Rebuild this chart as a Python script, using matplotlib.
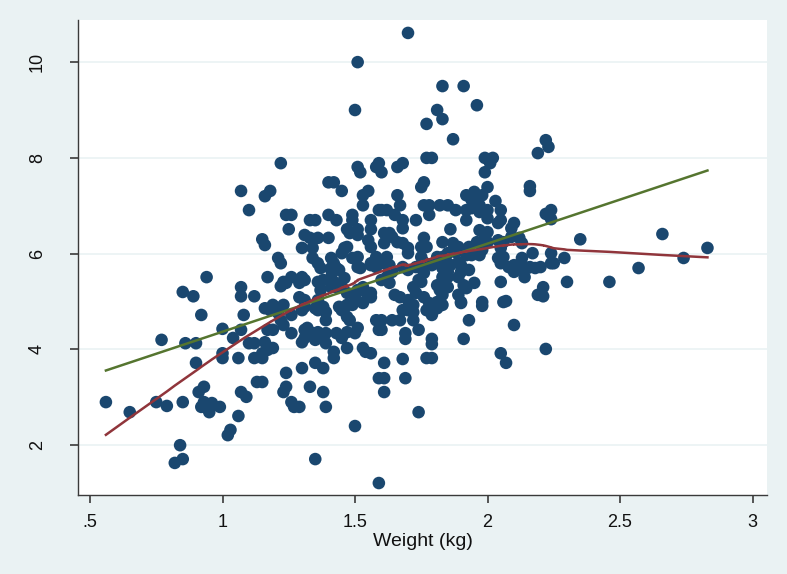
import numpy as np
import matplotlib
matplotlib.use("Agg")
import matplotlib.pyplot as plt
from matplotlib import font_manager

# ---- data (x = weight in kg, y = outcome) ----
weight = [
 0.56,0.65,0.75,0.79,0.85,0.77,0.84,0.82,0.85,0.85,0.89,0.94,0.92,0.86,0.90,0.90,0.91,0.93,0.92,0.93,
 0.95,0.96,0.95,0.99,1.00,1.00,1.00,1.04,1.07,1.08,1.06,1.06,1.03,1.02,1.07,1.09,1.07,1.10,1.07,1.07,
 1.12,1.10,1.12,1.12,1.15,1.15,1.13,1.15,1.16,1.18,1.22,1.24,1.26,1.25,1.15,1.16,1.21,1.22,1.17,1.22,
 1.23,1.26,1.24,1.19,1.23,1.16,1.18,1.17,1.19,1.16,1.17,1.19,1.22,1.23,1.21,1.26,1.26,1.24,1.24,1.23,
 1.26,1.27,1.33,1.35,1.31,1.33,1.36,1.40,1.30,1.34,1.40,1.43,1.34,1.36,1.37,1.41,1.42,1.43,1.41,1.30,
 1.31,1.29,1.36,1.38,1.41,1.43,1.41,1.37,1.29,1.31,1.36,1.31,1.35,1.38,1.44,1.40,1.42,1.30,1.31,1.31,
 1.32,1.35,1.34,1.36,1.39,1.39,1.38,1.30,1.39,1.39,1.36,1.43,1.42,1.42,1.30,1.35,1.38,1.33,1.38,1.39,
 1.35,1.29,1.42,1.44,1.41,1.45,1.51,1.52,1.58,1.59,1.60,1.53,1.55,1.53,1.49,1.49,1.47,1.48,1.51,1.51,
 1.56,1.56,1.55,1.56,1.46,1.47,1.45,1.49,1.51,1.51,1.56,1.58,1.46,1.45,1.47,1.51,1.50,1.53,1.54,1.56,
 1.56,1.47,1.53,1.59,1.51,1.50,1.45,1.47,1.50,1.51,1.47,1.48,1.46,1.49,1.58,1.59,1.56,1.54,1.53,1.47,
 1.59,1.50,1.52,1.56,1.45,1.58,1.66,1.68,1.60,1.62,1.65,1.68,1.68,1.66,1.67,1.61,1.63,1.64,1.61,1.66,
 1.68,1.70,1.70,1.61,1.63,1.68,1.70,1.64,1.73,1.62,1.63,1.60,1.70,1.72,1.67,1.65,1.72,1.73,1.73,1.62,
 1.63,1.70,1.72,1.74,1.64,1.67,1.72,1.60,1.60,1.68,1.69,1.69,1.74,1.68,1.61,1.61,1.61,1.69,1.59,1.74,
 1.70,1.83,1.81,1.83,1.77,1.87,1.77,1.79,1.76,1.75,1.76,1.78,1.82,1.85,1.88,1.78,1.76,1.77,1.83,1.87,
 1.89,1.75,1.81,1.83,1.85,1.88,1.86,1.89,1.90,1.90,1.89,1.75,1.76,1.79,1.81,1.83,1.85,1.86,1.81,1.82,
 1.85,1.85,1.83,1.81,1.83,1.89,1.90,1.75,1.76,1.78,1.77,1.79,1.81,1.79,1.77,1.79,1.79,1.79,1.76,1.83,
 1.85,1.91,1.96,1.99,2.02,2.01,1.99,1.92,1.95,1.96,1.98,2.00,2.03,1.94,1.97,1.92,1.94,1.97,2.00,2.00,
 1.92,2.04,1.97,2.00,1.99,1.93,1.96,2.00,2.04,1.92,1.94,1.98,1.97,2.04,2.05,1.91,1.92,1.95,1.98,1.98,
 1.90,1.93,1.91,1.93,2.05,2.05,2.10,2.09,2.09,2.06,2.12,2.13,2.08,2.10,2.10,2.13,2.17,2.18,2.15,2.14,
 2.24,2.24,2.29,2.30,2.21,2.21,2.05,2.06,2.07,2.05,2.07,2.10,2.22,2.19,2.22,2.23,2.19,2.16,2.16,2.22,
 2.24,2.24,2.16,2.12,2.25,2.20,2.05,2.06,2.35,2.46,2.57,2.66,2.74,2.83,
]
score = [
 2.90,2.69,2.90,2.82,2.90,4.20,2.00,1.63,1.71,5.20,5.11,5.51,4.72,4.13,4.13,3.72,3.11,3.22,2.80,2.90,
 2.80,2.88,2.69,2.80,4.43,3.92,3.82,4.24,4.41,4.72,3.82,2.61,2.32,2.21,3.11,3.01,7.31,6.91,5.30,5.11,
 5.11,4.13,4.13,3.82,3.82,3.92,3.32,3.32,7.20,7.31,7.89,6.81,6.81,6.51,6.30,6.18,5.91,5.80,5.51,5.32,
 5.41,5.51,5.39,4.93,4.93,4.86,4.82,3.99,4.03,4.15,4.41,4.41,4.61,4.51,4.76,4.72,4.34,3.51,3.22,3.11,
 2.90,2.80,6.70,6.70,6.39,6.33,6.33,6.33,6.12,6.12,6.81,6.70,5.91,5.80,5.70,5.91,5.80,5.70,5.70,5.51,
 5.45,5.39,5.41,5.45,5.51,5.30,5.30,5.24,5.09,5.03,5.03,4.89,4.86,4.89,4.89,7.49,7.49,4.15,4.24,4.41,
 4.45,4.20,4.34,4.36,4.34,4.13,4.24,4.82,4.61,4.78,4.82,4.34,3.95,3.82,3.61,3.72,3.61,3.22,3.11,2.80,
 1.71,2.80,5.41,5.66,5.66,7.31,7.81,7.70,7.81,7.89,7.70,7.22,7.31,7.01,6.81,6.70,6.51,6.43,6.51,6.39,
 6.70,6.51,6.28,6.14,6.12,6.14,6.01,5.91,5.93,5.72,5.80,5.72,5.49,5.30,5.18,5.24,5.09,5.30,5.20,5.18,
 5.09,4.93,4.97,6.91,10.00,9.00,4.24,4.36,4.34,4.45,4.68,4.61,4.86,4.93,4.61,4.41,3.92,3.95,4.03,4.03,
 3.40,2.40,5.70,5.76,4.82,5.93,7.81,7.89,6.91,6.91,6.81,6.70,6.53,7.22,7.01,6.43,6.43,6.35,6.22,6.24,
 6.22,6.12,6.01,5.80,5.76,5.72,5.66,5.62,5.72,5.51,5.39,5.45,5.03,4.93,5.09,5.14,5.30,5.18,6.70,5.93,
 5.66,4.82,4.78,5.45,4.61,4.61,4.61,4.61,4.41,4.82,4.34,4.22,4.41,3.80,3.72,3.40,3.11,3.40,1.21,2.69,
 10.61,9.50,9.00,8.81,8.71,8.39,8.00,8.00,7.49,7.39,7.01,7.01,7.01,7.01,6.91,6.81,6.33,6.14,6.24,6.22,
 6.14,6.14,5.93,5.93,6.01,6.03,6.51,5.82,5.76,5.62,5.51,5.93,5.82,5.76,5.87,5.70,5.62,5.76,5.34,5.24,
 5.30,5.51,5.14,4.99,4.93,5.14,4.99,5.41,5.09,4.97,4.82,4.82,4.86,4.72,3.82,3.82,4.22,4.11,5.60,5.51,
 5.80,9.50,9.10,8.00,8.00,7.89,7.70,7.22,7.29,7.18,7.22,7.39,7.10,7.12,7.01,6.91,6.95,6.87,6.91,6.74,
 6.70,6.64,6.49,6.45,6.35,6.14,6.24,6.24,6.28,5.97,5.97,6.08,5.97,5.91,5.80,5.34,5.28,5.39,4.99,4.91,
 4.97,5.66,4.22,4.61,6.91,6.70,6.64,6.53,6.35,6.24,6.33,6.22,5.72,5.62,5.76,5.91,6.01,5.70,5.70,5.51,
 6.01,5.80,5.91,5.41,5.30,5.11,5.41,4.99,5.01,3.92,3.72,4.51,4.01,5.14,8.37,8.23,8.10,7.41,7.31,6.83,
 6.91,6.72,5.72,5.72,5.80,5.72,6.12,5.93,6.30,5.41,5.70,6.41,5.91,6.12,
]
x_ticks = [0.5, 1, 1.5, 2, 2.5, 3]
x_ticklabels = [".5", "1", "1.5", "2", "2.5", "3"]
y_ticks = [2, 4, 6, 8, 10]
x_label = "Weight (kg)"

x = np.array(weight, dtype=float)
y = np.array(score, dtype=float)
n = min(len(x), len(y))
x, y = x[:n], y[:n]

# linear fit
b, a = np.polyfit(x, y, 1)
xs_fit = np.array([x.min(), x.max()])
ys_fit = a + b * xs_fit

# Stata-style lowess (running line, tricube weights, bwidth 0.8)
order = np.argsort(x, kind="mergesort")
xs, ys = x[order], y[order]
N = len(xs)
k = int(np.floor((N * 0.8 - 0.5) / 2))
low = np.empty(N)
for i in range(N):
    lo, hi = max(0, i - k), min(N - 1, i + k)
    xi = xs[lo:hi + 1]; yi = ys[lo:hi + 1]
    delta = 1.0001 * max(xs[hi] - xs[i], xs[i] - xs[lo])
    w = (1 - (np.abs(xi - xs[i]) / delta) ** 3) ** 3
    W = w.sum()
    mx = (w * xi).sum() / W; my = (w * yi).sum() / W
    sxx = (w * (xi - mx) ** 2).sum()
    slope = (w * (xi - mx) * (yi - my)).sum() / sxx if sxx > 0 else 0.0
    low[i] = my + slope * (xs[i] - mx)

# fonts
avail = {f.name for f in font_manager.fontManager.ttflist}
fam = "Liberation Sans Narrow" if "Liberation Sans Narrow" in avail else "Liberation Sans"
plt.rcParams["font.family"] = [fam, "DejaVu Sans"]

bg = "#EAF2F3"
fig = plt.figure(figsize=(7.87, 5.74), dpi=100, facecolor=bg)
ax = fig.add_axes([78 / 787, 79 / 574, 689 / 787, 475 / 574])
ax.set_facecolor("white")

ax.scatter(x, y, s=82, color="#1A476F", edgecolors="none", zorder=3)
ax.plot(xs_fit, ys_fit, color="#55752F", lw=1.8, zorder=4)
ax.plot(xs, low, color="#90353B", lw=1.8, zorder=4)

ax.set_xlim(0.4547, 3.0547)
ax.set_ylim(0.96, 10.88)
ax.set_xticks(x_ticks)
ax.set_xticklabels(x_ticklabels)
ax.set_yticks(y_ticks)
ax.set_yticklabels([str(t) for t in y_ticks], rotation=90, va="center")
ax.grid(axis="y", color="#EAF2F3", lw=1.2, zorder=0)
ax.set_axisbelow(True)
for s in ["top", "right"]:
    ax.spines[s].set_visible(False)
for s in ["left", "bottom"]:
    ax.spines[s].set_color("#3a3a3a")
    ax.spines[s].set_linewidth(1.0)
ax.tick_params(axis="both", length=6, width=1.2, color="#3a3a3a", labelsize=13, labelcolor="#111111")
ax.tick_params(axis="y", pad=17)
ax.tick_params(axis="x", pad=8)
ax.set_xlabel(x_label, fontsize=14, color="#111111", labelpad=1)

fig.savefig("out.png", dpi=100, facecolor=bg)
